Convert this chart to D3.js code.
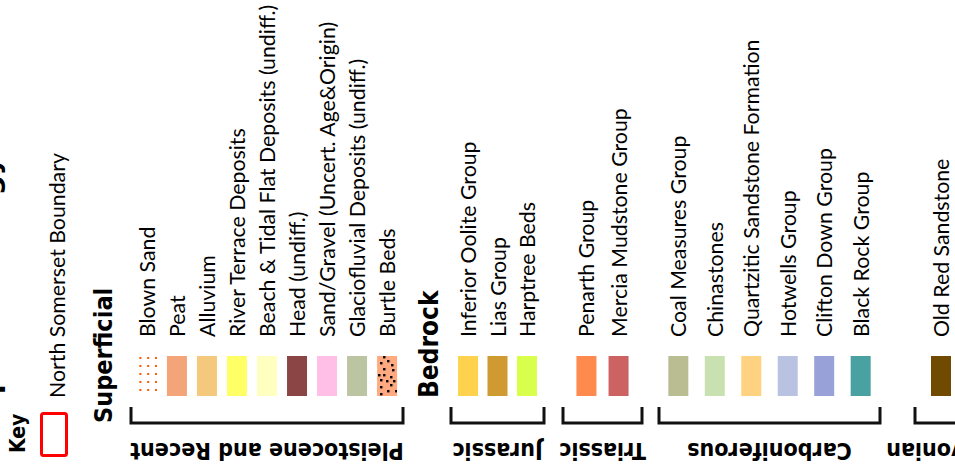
<!DOCTYPE html>
<html>
<head>
<meta charset="utf-8">
<script src="https://cdn.jsdelivr.net/npm/d3@7"></script>
<style>
  body { margin: 0; background: #fff; }
  .head { font-family: "DejaVu Sans Condensed", "DejaVu Sans", sans-serif; font-weight: bold; font-stretch: condensed; fill: #000; }
  .unit { font-family: Lato, "Open Sans", sans-serif; fill: #000; }
</style>
</head>
<body>
<script>
const width = 955;
const height = 466;

// legend content
const unitNames = ['Blown Sand','Peat','Alluvium','River Terrace Deposits','Beach & Tidal Flat Deposits (undiff.)',
  'Head (undiff.)','Sand/Gravel (Uncert. Age&Origin)','Glaciofluvial Deposits (undiff.)','Burtle Beds',
  'Inferior Oolite Group','Lias Group','Harptree Beds',
  'Penarth Group','Mercia Mudstone Group',
  'Coal Measures Group','Chinastones','Quartzitic Sandstone Formation','Hotwells Group','Clifton Down Group','Black Rock Group',
  'Old Red Sandstone'];
const unitGroups = ['Pleistocene and Recent','Pleistocene and Recent','Pleistocene and Recent','Pleistocene and Recent','Pleistocene and Recent',
  'Pleistocene and Recent','Pleistocene and Recent','Pleistocene and Recent','Pleistocene and Recent',
  'Jurassic','Jurassic','Jurassic',
  'Triassic','Triassic',
  'Carboniferous','Carboniferous','Carboniferous','Carboniferous','Carboniferous','Carboniferous',
  'Devonian'];
const unitColors = ['#FF5500','#F4A479','#F5C97D','#FFFF66','#FFFFBF',
  '#8B4545','#FFBFE6','#BBC5A2','#FFAA80',
  '#FFD24D','#D09A33','#D9FF4D',
  '#FF8A4D','#CC6262',
  '#BABD91','#C9E1B1','#FFD281','#B9C2E1','#98A2D8','#49A1A2',
  '#704A00'];
const groupNames = ['Pleistocene and Recent','Jurassic','Triassic','Carboniferous','Devonian'];

// layout
const groupLayout = {
  'Pleistocene and Recent': [131, 403, 0.53],
  'Jurassic': [451, 544, 0.58],
  'Triassic': [563, 642, 0.73],
  'Carboniferous': [659, 880, 0.53],
  'Devonian': [915, 967, 0.5]
};
const swatchTop = 356, swatchW = 20, swatchH = 40;
const labelStart = 337;
const bracketTop = 407, bracketY = 423, groupLabelY = 443;
const labelSize = '21.3px';

const svg = d3.select('body').append('svg')
  .attr('width', width)
  .attr('height', height);

const defs = svg.append('defs');

// one point scale per group
const scales = {};
groupNames.forEach(g => {
  const [x0, x1, pad] = groupLayout[g];
  scales[g] = d3.scalePoint()
    .domain(unitNames.filter((_, i) => unitGroups[i] === g))
    .range([x0, x1])
    .padding(pad);
});
const cx = (d, i) => scales[unitGroups[i]](d);

// textures
const blownX = scales['Pleistocene and Recent']('Blown Sand');
const blown = defs.append('pattern').attr('id', 'blown')
  .attr('patternUnits', 'userSpaceOnUse')
  .attr('x', blownX - 7.5).attr('y', swatchTop + 1)
  .attr('width', 7.8).attr('height', 8);
blown.append('rect').attr('width', 2).attr('height', 2).attr('fill', unitColors[0]);

const burtleX = scales['Pleistocene and Recent']('Burtle Beds');
const speckle = [[6,0],[10,4],[3,6],[14,8],[6,12],[15,13],[1,18],[6,18],[13,20],[3,23],[9,24],[16,24],[13,28],[3,30],[10,34],[18,34],[3,37]];
const burtle = defs.append('pattern').attr('id', 'burtle')
  .attr('patternUnits', 'userSpaceOnUse')
  .attr('x', burtleX - swatchW / 2).attr('y', swatchTop)
  .attr('width', swatchW).attr('height', swatchH);
burtle.append('rect').attr('width', swatchW).attr('height', swatchH).attr('fill', unitColors[8]);
burtle.selectAll('rect.dot').data(speckle).enter().append('rect')
  .attr('class', 'dot')
  .attr('x', d => d[0]).attr('y', d => d[1])
  .attr('width', 2.4).attr('height', 2.4).attr('fill', '#000');

const fillFor = (d, i) => d === 'Blown Sand' ? 'url(#blown)' : d === 'Burtle Beds' ? 'url(#burtle)' : unitColors[i];

// title (runs off the left edge, only its descenders show) and key
svg.append('text').attr('class', 'head')
  .attr('transform', 'translate(-1,453) rotate(-90)')
  .style('font-stretch', 'normal')
  .style('font-family', '"DejaVu Sans", sans-serif')
  .style('font-size', '28px')
  .text('Simplified Geology');

svg.append('text').attr('class', 'head')
  .attr('transform', 'translate(25,453) rotate(-90)')
  .style('font-size', '21px')
  .text('Key');

svg.append('rect')
  .attr('x', 41.5).attr('y', 413.5)
  .attr('width', 25).attr('height', 42)
  .attr('rx', 2)
  .attr('fill', 'none')
  .attr('stroke', '#FF0000')
  .attr('stroke-width', 3);

svg.append('text').attr('class', 'unit')
  .attr('transform', 'translate(65,398) rotate(-90)')
  .style('font-size', labelSize)
  .text('North Somerset Boundary');

// section headings
svg.append('text').attr('class', 'head')
  .attr('transform', 'translate(112,423) rotate(-90)')
  .style('font-size', '25px')
  .text('Superficial');
svg.append('text').attr('class', 'head')
  .attr('transform', 'translate(438,398) rotate(-90)')
  .style('font-size', '26px')
  .text('Bedrock');

// swatches
svg.selectAll('rect.swatch').data(unitNames).enter().append('rect')
  .attr('class', 'swatch')
  .attr('x', (d, i) => cx(d, i) - swatchW / 2)
  .attr('y', swatchTop)
  .attr('width', swatchW)
  .attr('height', swatchH)
  .attr('fill', fillFor);

// labels
svg.selectAll('text.unit-label').data(unitNames).enter().append('text')
  .attr('class', 'unit unit-label')
  .attr('transform', (d, i) => `translate(${cx(d, i) + 8},${labelStart}) rotate(-90)`)
  .style('font-size', labelSize)
  .text(d => d);

// brackets and period names
const brackets = svg.selectAll('g.bracket').data(groupNames).enter().append('g').attr('class', 'bracket');
brackets.append('path')
  .attr('d', g => {
    const [x0, x1] = groupLayout[g];
    return `M${x0},${bracketTop}V${bracketY}H${x1}V${bracketTop}`;
  })
  .attr('fill', 'none')
  .attr('stroke', '#111')
  .attr('stroke-width', 3);
brackets.append('text').attr('class', 'head')
  .attr('transform', g => {
    const [x0, x1] = groupLayout[g];
    return `translate(${(x0 + x1) / 2},${groupLabelY}) rotate(180)`;
  })
  .attr('text-anchor', 'middle')
  .style('font-size', '23px')
  .text(g => g);
</script>
</body>
</html>
